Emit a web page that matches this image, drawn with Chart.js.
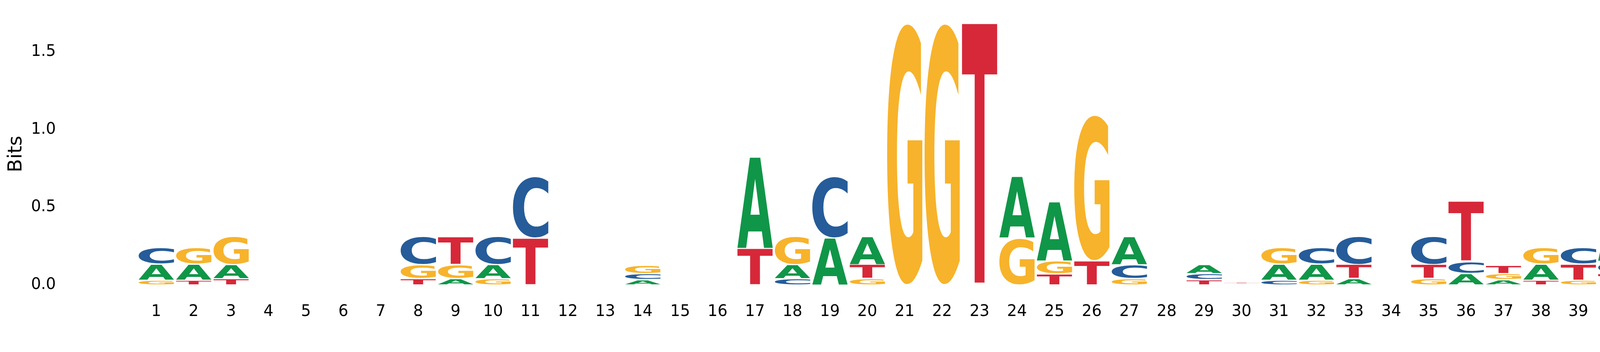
<!DOCTYPE html>
<html>
<head>
<meta charset="utf-8">
<title>Sequence logo</title>
<script src="https://cdn.jsdelivr.net/npm/chart.js@4/dist/chart.umd.min.js"></script>
<style>
  html, body { margin: 0; padding: 0; background: #fff; }
  canvas { display: block; }
</style>
</head>
<body>
<canvas id="logo" width="4500" height="900"></canvas>
<script>
// positions along the motif
var positions = ["1","2","3","4","5","6","7","8","9","10","11","12","13","14","15","16","17","18","19","20",
                 "21","22","23","24","25","26","27","28","29","30","31","32","33","34","35","36","37","38","39","40","41"];

// information content (bits) of each base at each position
var bitsA = [0.103,0.103,0.088,0,0,0,0,0,0.041,0.088,0,0,0,0.034,0,0,0.588,0.088,0.301,0.180,
             0,0,0,0.398,0.381,0,0.180,0,0.055,0.002,0.103,0.103,0.041,0,0,0.074,0.034,0.103,0,0.387,0];
var bitsC = [0.106,0,0,0,0,0,0,0.180,0,0.180,0.398,0,0,0.039,0,0,0,0.041,0.398,0,
             0,0,0,0,0,0,0.088,0,0.039,0.003,0.030,0.106,0.180,0,0.180,0.077,0,0,0.106,0.077,0];
var bitsG = [0.030,0.106,0.180,0,0,0,0,0.088,0.088,0.041,0,0,0,0.055,0,0,0,0.180,0,0.041,
             1.685,1.685,0,0.301,0.082,0.940,0.041,0,0,0.003,0.106,0.030,0,0,0.041,0,0.039,0.106,0.030,0,0];
var bitsT = [0,0.030,0.041,0,0,0,0,0.041,0.180,0,0.301,0,0,0,0,0,0.235,0,0,0.088,
             0,0,1.685,0,0.071,0.155,0,0,0.034,0.012,0,0,0.088,0,0.088,0.387,0.055,0.030,0.103,0.074,0];

var yTicks = [0, 0.5, 1.0, 1.5];

var baseColors = { A: "#109648", C: "#255C99", G: "#F7B32B", T: "#D62839" };

// build one stacked dataset per rank (smallest letter at the bottom)
var letterBits = { A: bitsA, C: bitsC, G: bitsG, T: bitsT };
var ranks = [[], [], [], []];
var rankLetters = [[], [], [], []];
var maxStack = 0;
for (var i = 0; i < positions.length; i++) {
  var col = ["A", "C", "G", "T"].map(function (b) { return { b: b, v: letterBits[b][i] }; });
  col.sort(function (p, q) { return p.v - q.v; });
  var tot = 0;
  for (var r = 0; r < 4; r++) {
    ranks[r].push(col[r].v);
    rankLetters[r].push(col[r].b);
    tot += col[r].v;
  }
  if (tot > maxStack) maxStack = tot;
}

var datasets = ranks.map(function (d, r) {
  return {
    label: "rank " + (r + 1),
    data: d,
    letters: rankLetters[r],
    backgroundColor: "rgba(0,0,0,0)",
    borderWidth: 0,
    barPercentage: 0.95,
    categoryPercentage: 1.0
  };
});

// draws a letter stretched to fill a box
function drawGlyph(ctx, letter, x, y, w, h, color) {
  ctx.save();
  ctx.font = "bold 200px 'DejaVu Sans'";
  ctx.textAlign = "left";
  ctx.textBaseline = "alphabetic";
  var m = ctx.measureText(letter);
  var gw = m.actualBoundingBoxLeft + m.actualBoundingBoxRight;
  var gh = m.actualBoundingBoxAscent + m.actualBoundingBoxDescent;
  ctx.translate(x, y);
  ctx.scale(w / gw, h / gh);
  ctx.fillStyle = color;
  ctx.fillText(letter, m.actualBoundingBoxLeft, m.actualBoundingBoxAscent);
  ctx.restore();
}

var logoPlugin = {
  id: "logoLetters",
  afterDatasetsDraw: function (chart) {
    var ctx = chart.ctx;
    var pad = 1.5;
    chart.data.datasets.forEach(function (ds, di) {
      var meta = chart.getDatasetMeta(di);
      meta.data.forEach(function (bar, j) {
        var letter = ds.letters[j];
        if (!ds.data[j]) return;
        var p = bar.getProps(["x", "y", "base", "width"], true);
        var top = Math.min(p.y, p.base) + pad;
        var bottom = Math.max(p.y, p.base) - pad;
        if (bottom - top < 0.5) return;
        drawGlyph(ctx, letter, p.x - p.width / 2, top, p.width, bottom - top, baseColors[letter]);
      });
    });
  }
};

// keep the scales from reserving room for label overflow
function noOverflow(scale) {
  scale.paddingTop = 0;
  scale.paddingBottom = 0;
  scale.paddingLeft = 0;
  scale.paddingRight = 0;
}

var ctx1 = document.getElementById("logo");

var chart1 = new Chart(ctx1, {
  type: "bar",
  data: { labels: positions, datasets: datasets },
  plugins: [logoPlugin],
  options: {
    responsive: false,
    devicePixelRatio: 1,
    animation: false,
    layout: { padding: { top: 59, right: 220, left: 0, bottom: 0 } },
    plugins: { legend: { display: false }, tooltip: { enabled: false } },
    scales: {
      x: {
        stacked: true,
        grid: { display: false, drawTicks: false },
        border: { display: false },
        ticks: {
          color: "#000",
          padding: 45,
          maxRotation: 0,
          autoSkip: false,
          font: { family: "'DejaVu Sans'", size: 40 }
        },
        afterFit: function (scale) { scale.height = 171.5; noOverflow(scale); }
      },
      y: {
        stacked: true,
        min: 0,
        max: maxStack,
        grid: { display: false, drawTicks: false },
        border: { display: false },
        title: {
          display: true,
          text: "Bits",
          color: "#000",
          font: { family: "'DejaVu Sans'", size: 50 },
          padding: { top: 12, bottom: 0 }
        },
        ticks: {
          color: "#000",
          padding: 209,
          font: { family: "'DejaVu Sans'", size: 40 },
          callback: function (v) { return Number(v).toFixed(1); }
        },
        afterBuildTicks: function (scale) {
          scale.ticks = yTicks.map(function (v) { return { value: v }; });
        },
        afterFit: function (scale) { scale.width = 352; noOverflow(scale); }
      }
    }
  }
});
</script>
</body>
</html>
